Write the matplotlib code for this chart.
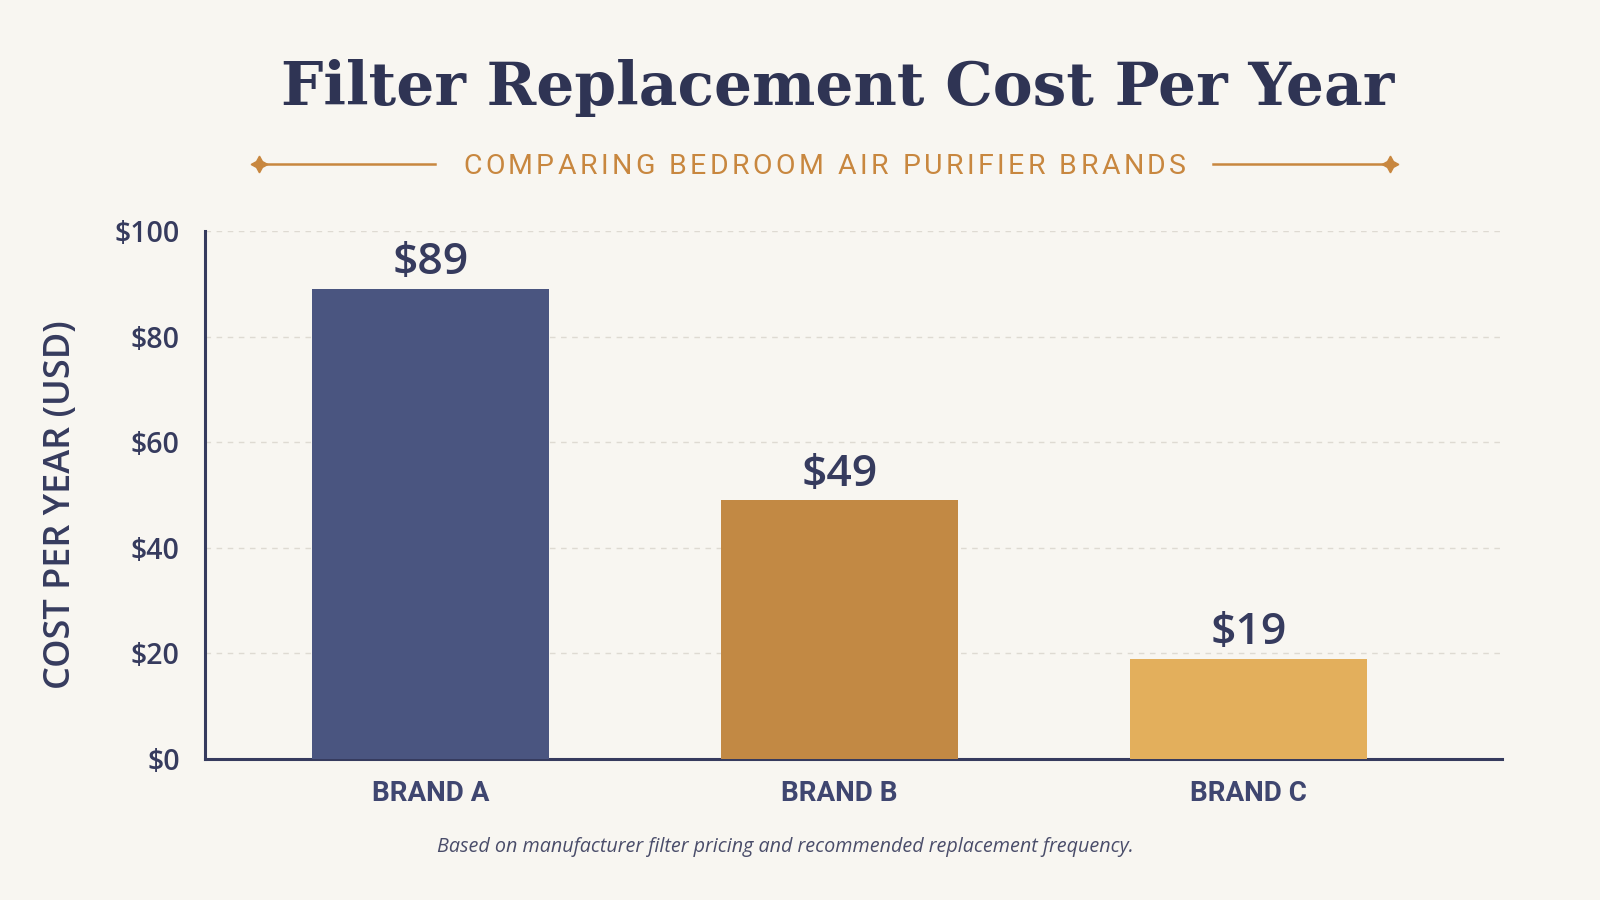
import matplotlib
matplotlib.use("Agg")
import matplotlib.pyplot as plt
from matplotlib.lines import Line2D
from matplotlib.font_manager import FontProperties

categories = ["BRAND A", "BRAND B", "BRAND C"]
values = [89, 49, 19]
value_labels = ["$89", "$49", "$19"]
yticks = [0, 20, 40, 60, 80, 100]
ytick_labels = ["$0", "$20", "$40", "$60", "$80", "$100"]
colors = ["#4A5580", "#C28944", "#E3AF5C"]
title = "Filter Replacement Cost Per Year"
subtitle = "COMPARING BEDROOM AIR PURIFIER BRANDS"
ylabel = "COST PER YEAR (USD)"
footnote = "Based on manufacturer filter pricing and recommended replacement frequency."

BG = "#F8F6F1"
NAVY = "#363B5E"
ORANGE = "#C8873F"
W, H = 1600, 900

fig = plt.figure(figsize=(16, 9), dpi=100, facecolor=BG)
ax = fig.add_axes([0.128, 0.1567, 0.811, 0.5863], facecolor=BG)

x = list(range(len(categories)))
ax.bar(x, values, width=0.58, color=colors, zorder=3)
ax.set_xlim(-0.551, 2.62)
ax.set_ylim(0, 100)

for xi, v, lab in zip(x, values, value_labels):
    ax.annotate(lab, (xi, v), xytext=(0, 19), textcoords="offset points",
                ha="center", va="center", fontsize=32, fontweight="semibold",
                family="Open Sans", color=NAVY, zorder=4)

ax.set_yticks(yticks)
ax.set_yticklabels(ytick_labels, fontsize=20.5, fontweight="semibold",
                   family="Open Sans", color=NAVY)
ax.set_xticks(x)
ax.set_xticklabels(categories, fontsize=20, fontweight="semibold",
                   family="Roboto", color="#3F4670")
ax.tick_params(axis="both", length=0)
ax.tick_params(axis="y", pad=18)
ax.tick_params(axis="x", pad=15)

ax.yaxis.grid(True, linestyle=(0, (4, 4)), color="#DEDAD2", linewidth=1, zorder=0)
ax.set_axisbelow(True)
for s in ["top", "right"]:
    ax.spines[s].set_visible(False)
for s in ["left", "bottom"]:
    ax.spines[s].set_color(NAVY)
    ax.spines[s].set_linewidth(2.2)

fig.text(61 / W, 1 - 505 / H, ylabel, rotation=90, ha="center", va="center",
         fontsize=26, fontweight="semibold", family="Open Sans", color=NAVY)

fig.text(838 / W, 0.902, title, ha="center", va="center",
         fontsize=43, fontweight="bold", family="DejaVu Serif", color="#2F3454")

# letter-spaced subtitle
renderer = fig.canvas.get_renderer()
prop = FontProperties(family="Roboto", size=20.5, weight="normal")
widths = []
for ch in subtitle:
    if ch == " ":
        widths.append(None)
    else:
        widths.append(renderer.get_text_width_height_descent(ch, prop, ismath=False)[0])
space_w = 0.26 * 20.5 * 100 / 72
x_start, x_end = 463.0, 1186.0
target = x_end - x_start
base = sum(w if w is not None else space_w for w in widths)
track = (target - base) / (len(subtitle) - 1)
xpos = x_start
y_sub = 1 - 163 / H
for ch, w in zip(subtitle, widths):
    if w is None:
        xpos += space_w + track
        continue
    fig.text(xpos / W, y_sub, ch, ha="left", va="center_baseline", fontproperties=prop,
             color=ORANGE)
    xpos += w + track

y_line = 1 - 164 / H
for x0, x1, mx in [(259, 435, 259), (1213, 1390, 1390)]:
    fig.add_artist(Line2D([x0 / W, x1 / W], [y_line, y_line],
                          transform=fig.transFigure, color=ORANGE, linewidth=1.8))
    fig.add_artist(Line2D([mx / W], [y_line], transform=fig.transFigure,
                          marker=(4, 1, 0), markersize=12, color=ORANGE,
                          linestyle="none"))

fig.text(785 / W, 1 - 847 / H, footnote,
         ha="center", va="center", fontsize=14.2, style="italic",
         family="Open Sans", color="#4A4D6A")

fig.savefig("out.png", dpi=100, facecolor=BG)
